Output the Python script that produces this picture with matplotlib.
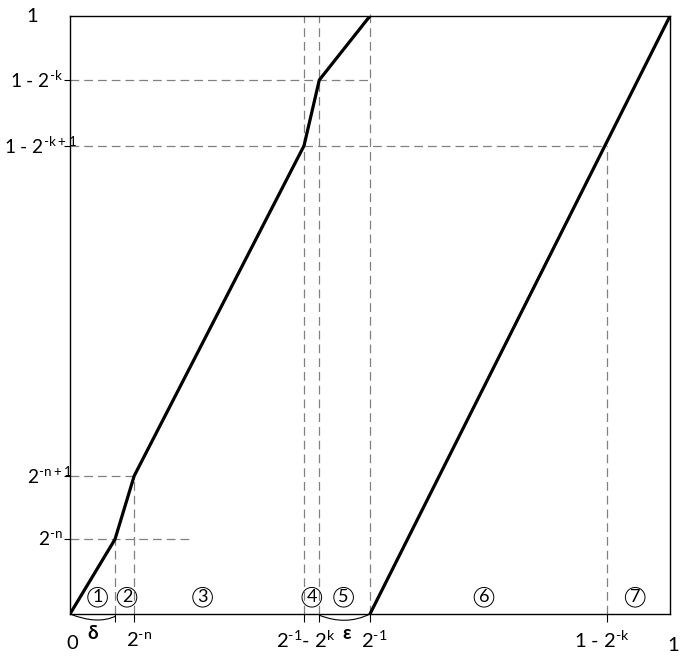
import matplotlib.pyplot as plt
from matplotlib.path import Path
from matplotlib.patches import PathPatch

plt.rcParams['font.family'] = ['Lato', 'DejaVu Sans']
plt.rcParams['mathtext.fontset'] = 'custom'
plt.rcParams['mathtext.rm'] = 'Lato'

# piecewise map, first branch (x on [0, 1/2])
x_left = [0, 0.075, 0.107, 0.390, 0.4155, 0.5]
y_left = [0, 0.125, 0.231, 0.783, 0.893, 1.0]
# second branch (x on [1/2, 1])
x_right = [0.5, 1.0]
y_right = [0.0, 1.0]

# marked points on the axes
x_marks = [0.075, 0.107, 0.390, 0.4155, 0.5, 0.8945]
y_marks = [0.125, 0.231, 0.783, 0.893]

# circled interval numbers
region_x = [0.046, 0.095, 0.221, 0.403, 0.456, 0.690, 0.942]
region_lbl = ["1", "2", "3", "4", "5", "6", "7"]

H = "\u2010"  # short hyphen inside the exponents


def pw(base, exp):
    return r"$\mathregular{%s^{%s}}$" % (base, exp.replace("-", H))


fig = plt.figure(figsize=(6.85, 6.62), dpi=100)
ax = fig.add_axes([70 / 685, 48 / 662, 600 / 685, 598 / 662])
ax.set_xlim(0, 1)
ax.set_ylim(0, 1)

dash = dict(color="#808080", lw=0.9, ls=(0, (7, 4)), clip_on=False)

# horizontal guides
ax.plot([0, 0.203], [y_marks[0]] * 2, **dash)
ax.plot([0, x_left[2]], [y_marks[1]] * 2, **dash)
ax.plot([0, x_marks[5]], [y_marks[2]] * 2, **dash)
ax.plot([0, x_left[5]], [y_marks[3]] * 2, **dash)
# vertical guides
ax.plot([x_marks[0]] * 2, [0, y_left[1]], **dash)
ax.plot([x_marks[1]] * 2, [0, y_left[2]], **dash)
ax.plot([x_marks[2]] * 2, [0, 1], **dash)
ax.plot([x_marks[3]] * 2, [0, 1], **dash)
ax.plot([x_marks[4]] * 2, [0, 1.01], **dash)
ax.plot([x_marks[5]] * 2, [0, y_marks[2]], **dash)

ax.plot(x_left, y_left, color="black", lw=2.3, solid_joinstyle="miter")
ax.plot(x_right, y_right, color="black", lw=2.3)

for s in ax.spines.values():
    s.set_linewidth(1.0)

ax.set_xticks(x_marks)
ax.set_yticks(y_marks)
ax.set_xticklabels([])
ax.set_yticklabels([])
ax.tick_params(axis="x", direction="out", length=5.5, width=0.8)
ax.tick_params(axis="y", direction="out", length=4, width=0.8)

# arcs for delta and epsilon
for p0, c, p1 in [((0, 0), (0.045, -0.018), (0.075, -0.004)),
                  ((0.4155, -0.002), (0.46, -0.02), (0.5, 0))]:
    path = Path([p0, c, p1], [Path.MOVETO, Path.CURVE3, Path.CURVE3])
    ax.add_patch(PathPatch(path, fc="none", ec="black", lw=0.8, clip_on=False))

for xr, lb in zip(region_x, region_lbl):
    ax.text(xr, 0.028, lb, ha="center", va="center", fontsize=13,
            bbox=dict(boxstyle="circle,pad=0.1", fc="none", ec="black", lw=0.7))

fs = 14.5
# x-axis labels
ax.text(0.003, -0.05, "0", ha="center", va="center", fontsize=fs, clip_on=False)
ax.text(0.037, -0.032, "δ", ha="center", va="center", fontsize=fs - 1, fontweight="bold")
ax.text(0.115, -0.043, pw("2", "-n"), ha="center", va="center", fontsize=fs)
ax.text(0.392, -0.043, pw("2", "-1") + "- " + pw("2", "k"),
        ha="center", va="center", fontsize=fs)
ax.text(0.461, -0.032, "ε", ha="center", va="center", fontsize=fs - 1, fontweight="bold")
ax.text(0.507, -0.043, pw("2", "-1"), ha="center", va="center", fontsize=fs)
ax.text(0.886, -0.043, "1 - " + pw("2", "-k"), ha="center", va="center", fontsize=fs)
ax.text(1.005, -0.053, "1", ha="center", va="center", fontsize=fs)

# y-axis labels
fy = 13.8
ax.text(-0.063, 1.0, "1", ha="center", va="center", fontsize=fs)
ax.text(-0.012, y_marks[3], "1 - " + pw("2", "-k"), ha="right", va="center", fontsize=fy)
ax.text(0.012, y_marks[2], "1 - " + pw("2", "-k+1"), ha="right", va="center", fontsize=fy)
ax.text(0.005, y_marks[1], pw("2", "-n+1"), ha="right", va="center", fontsize=fy)
ax.text(-0.012, y_marks[0], pw("2", "-n"), ha="right", va="center", fontsize=fy)

fig.savefig("out.png", dpi=100)
